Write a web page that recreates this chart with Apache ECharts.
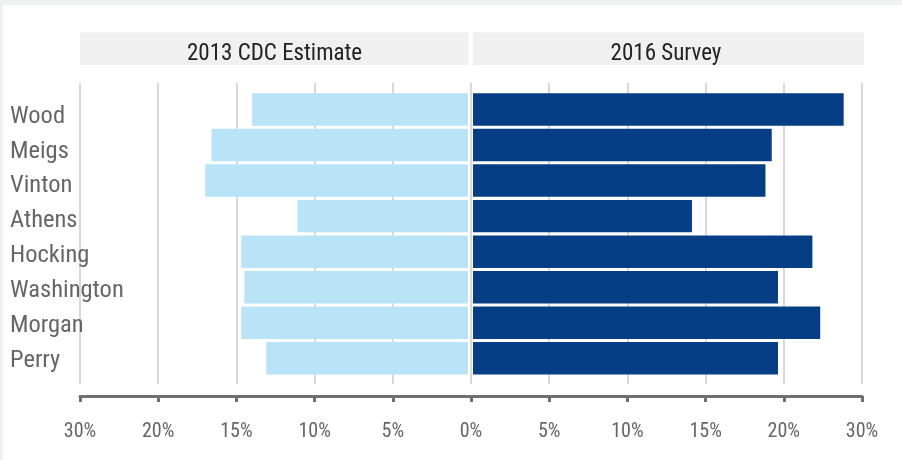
<!DOCTYPE html>
<html>
<head>
<meta charset="utf-8">
<script src="https://cdn.jsdelivr.net/npm/echarts@6/dist/echarts.min.js"></script>
<style>
html,body{margin:0;padding:0;background:#fff;}
#chart{width:902px;height:460px;}
</style>
</head>
<body>
<div id="chart"></div>
<script>
var categories = ['Wood','Meigs','Vinton','Athens','Hocking','Washington','Morgan','Perry'];
var cdc2013 = [13.8, 16.4, 16.8, 10.9, 14.5, 14.3, 14.5, 12.9];
var survey2016 = [23.7, 19.1, 18.7, 14.0, 21.7, 19.5, 22.2, 19.5];
var tickValues = [0, 5, 10, 15, 20, 25];
var tickLabels = ['0%', '5%', '10%', '15%', '20%', '30%'];
var panelTitles = ['2013 CDC Estimate', '2016 Survey'];

var FONT = "'Roboto Condensed', 'DejaVu Sans Condensed', sans-serif";
var chart = echarts.init(document.getElementById('chart'), null, {renderer: 'canvas'});

function tickFmt(hideZero) {
  return function (v) {
    if (hideZero && v === 0) return '';
    var i = tickValues.indexOf(v);
    return i >= 0 ? tickLabels[i] : '';
  };
}

function axisGridX(gridIndex, inverse, hideZero) {
  return {
    type: 'value', gridIndex: gridIndex, min: 0, max: 25, interval: 5, inverse: inverse,
    position: 'bottom', offset: 12,
    axisLine: {show: true, lineStyle: {color: '#707070', width: 3}},
    axisTick: {show: true, length: 6, lineStyle: {color: '#707070', width: 3}},
    axisLabel: {show: true, margin: 26, fontSize: 20, color: '#666', fontFamily: FONT,
      showMinLabel: true, showMaxLabel: true, formatter: tickFmt(hideZero)},
    splitLine: {show: true, lineStyle: {color: '#d9d9d9', width: 2}}
  };
}
function hiddenX(gridIndex, inverse) {
  return {type: 'value', gridIndex: gridIndex, min: 0, max: 25, inverse: inverse, show: false,
    splitLine: {show: false}};
}

var option = {
  backgroundColor: '#ffffff',
  animation: false,
  grid: [
    {left: 80, width: 391, top: 83, height: 301, outerBoundsMode: 'none'},
    {left: 471, width: 391, top: 83, height: 301, outerBoundsMode: 'none'},
    {left: 77, width: 391, top: 91.75, height: 284.3, outerBoundsMode: 'none'},
    {left: 473, width: 391, top: 91.75, height: 284.3, outerBoundsMode: 'none'},
    {left: 77, width: 391, top: 99.3, height: 278.6, outerBoundsMode: 'none'}
  ],
  xAxis: [
    axisGridX(0, true, false),
    axisGridX(1, false, true),
    hiddenX(2, true),
    hiddenX(3, false),
    hiddenX(4, true)
  ],
  yAxis: [
    {type: 'category', gridIndex: 0, show: false, data: categories},
    {type: 'category', gridIndex: 1, show: false, data: categories},
    {type: 'category', gridIndex: 2, show: false, data: categories, inverse: true},
    {type: 'category', gridIndex: 3, show: false, data: categories, inverse: true},
    {type: 'category', gridIndex: 4, data: categories, inverse: true,
      axisLine: {show: false}, axisTick: {show: false}, splitLine: {show: false},
      axisLabel: {show: true, align: 'left', margin: 67, fontSize: 24.5, color: '#666', fontFamily: FONT}}
  ],
  series: [
    {type: 'bar', xAxisIndex: 2, yAxisIndex: 2, data: cdc2013, barCategoryGap: '8.7%',
      itemStyle: {color: '#b9e4f8'}, silent: true},
    {type: 'bar', xAxisIndex: 3, yAxisIndex: 3, data: survey2016, barCategoryGap: '8.7%',
      itemStyle: {color: '#063e86'}, silent: true}
  ],
  graphic: [
    {type: 'rect', shape: {x: 0, y: 0, width: 902, height: 5}, style: {fill: '#f0f1f3'}, silent: true},
    {type: 'rect', shape: {x: 0, y: 0, width: 3, height: 460}, style: {fill: '#f0f1f3'}, silent: true},
    {type: 'rect', shape: {x: 80, y: 32.3, width: 388.5, height: 32.7}, style: {fill: '#f0f0f0'}, silent: true},
    {type: 'rect', shape: {x: 473, y: 32.3, width: 391, height: 32.7}, style: {fill: '#f0f0f0'}, silent: true},
    {type: 'text', x: 274.5, y: 54, style: {text: panelTitles[0], fill: '#222', fontSize: 23, fontFamily: FONT,
      align: 'center', verticalAlign: 'middle'}, silent: true},
    {type: 'text', x: 666, y: 54, style: {text: panelTitles[1], fill: '#222', fontSize: 23, fontFamily: FONT,
      align: 'center', verticalAlign: 'middle'}, silent: true}
  ]
};
chart.setOption(option);
</script>
</body>
</html>
